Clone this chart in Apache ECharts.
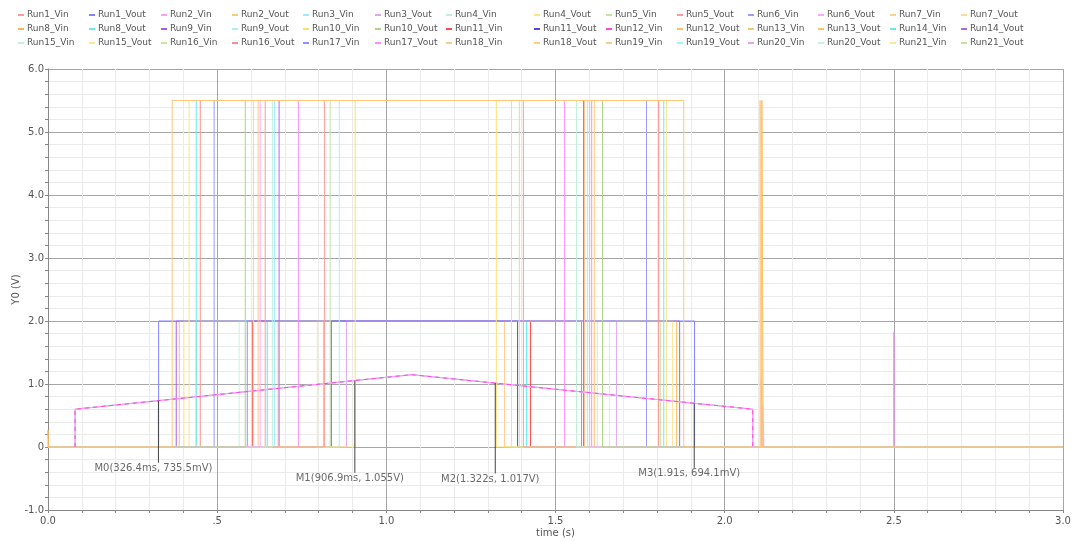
<!DOCTYPE html>
<html>
<head>
<meta charset="utf-8">
<script src="https://cdn.jsdelivr.net/npm/echarts/dist/echarts.min.js"></script>
<style>
  html, body { margin: 0; padding: 0; background: #fff; }
  #chart { width: 1082px; height: 543px; }
</style>
</head>
<body>
<div id="chart"></div>
<script>
// Monte Carlo transient: Vin / Vout of 21 runs
const runCount = 21;
const seriesNames = [];
for (let r = 1; r <= runCount; r++) seriesNames.push('Run' + r + '_Vin', 'Run' + r + '_Vout');

// legend order colours (Run1_Vin, Run1_Vout, Run2_Vin, ...)
const seriesColors = [
  '#ff9a9a', '#8282ff', '#ff9cff', '#ffc77a', '#9cecff', '#dfa6f7', '#bff0dc',
  '#ffe38c', '#c4e69a', '#ff9a9a', '#9a9aff', '#ffa6ff', '#ffd08c', '#ffd89a',
  '#ffb455', '#5eeeee', '#a95bee', '#b0f0dc', '#ffe066', '#acd686', '#ff4848',
  '#4a4aee', '#ff48dd', '#ffc165', '#ffc165', '#ffc165', '#5eeeee', '#b066ee',
  '#c2f2e2', '#ffe59a', '#c6e6a0', '#ff8c8c', '#9090ff', '#ff8cff', '#ffcc88',
  '#ffcc88', '#ffcc88', '#a6f4f4', '#dfa6f7', '#c4f4e0', '#ffe59a', '#c4e4a0'
];

// x positions of legend columns (text start, px)
const legendColumnX = [29, 100, 172, 243, 314, 386, 457, 545, 617, 688, 759, 829, 901, 972];

// input ramp (identical for every run)
const vinRampT = [0.08, 0.08, 1.075, 2.083, 2.083];
const vinRampV = [0, 0.6, 1.148, 0.6, 0];
const rampRuns = ['Run5_Vin', 'Run15_Vin', 'Run20_Vin', 'Run2_Vin', 'Run12_Vin'];

// [series, rise (s), fall (s), level (V)]
const highPulses = [
  ['Run2_Vout', 0.367, 1.879, 5.5],
  ['Run4_Vout', 0.417, 1.828, 5.5],
  ['Run8_Vout', 0.438, 1.820, 5.5],
  ['Run16_Vout', 0.450, 1.805, 5.5],
  ['Run6_Vin', 0.491, 1.769, 5.5],
  ['Run10_Vout', 0.583, 1.639, 5.5],
  ['Run7_Vin', 0.607, 1.615, 5.5],
  ['Run18_Vin', 0.621, 1.586, 5.5],
  ['Run6_Vout', 0.627, 1.601, 5.5],
  ['Run1_Vin', 0.642, 1.607, 5.5],
  ['Run4_Vin', 0.663, 1.562, 5.5],
  ['Run3_Vin', 0.669, 1.595, 5.5],
  ['Run14_Vout', 0.683, 1.583, 5.5],
  ['Run17_Vout', 0.740, 1.527, 5.5],
  ['Run5_Vout', 0.817, 1.405, 5.5],
  ['Run16_Vin', 0.834, 1.393, 5.5],
  ['Run19_Vout', 0.861, 1.370, 5.5],
  ['Run10_Vin', 0.908, 1.325, 5.5]
];
const lowPulses = [
  ['Run1_Vout', 0.327, 1.911, 2.0],
  ['Run9_Vin', 0.379, 1.867, 2.0],
  ['Run12_Vout', 0.388, 1.858, 2.0],
  ['Run15_Vout', 0.402, 1.846, 2.0],
  ['Run21_Vout', 0.438, 1.811, 2.0],
  ['Run20_Vout', 0.565, 1.660, 2.0],
  ['Run17_Vin', 0.589, 1.577, 2.0],
  ['Run11_Vin', 0.604, 1.426, 2.0],
  ['Run14_Vin', 0.648, 1.414, 2.0],
  ['Run19_Vin', 0.680, 1.349, 2.0],
  ['Run21_Vin', 0.796, 1.624, 2.0],
  ['Run13_Vout', 0.814, 1.615, 2.0],
  ['Run11_Vout', 0.837, 1.388, 2.0],
  ['Run3_Vout', 0.882, 1.680, 2.0]
];
const spikePulses = [
  ['Run8_Vin', 0.0, 0.002, 0.27],
  ['Run7_Vout', 2.104, 2.108, 5.5],
  ['Run18_Vout', 2.107, 2.111, 5.5],
  ['Run13_Vin', 2.110, 2.114, 5.5],
  ['Run11_Vin', 2.108, 2.110, 1.07],
  ['Run6_Vout', 2.112, 2.116, 0.68],
  ['Run17_Vout', 2.5, 2.5, 1.82]
];

// cursor markers
const markerT = [0.3264, 0.9069, 1.322, 1.91];
const markerV = [0.7355, 1.055, 1.017, 0.6941];
const markerLabelV = [-0.25, -0.41, -0.42, -0.33];
const markerText = ['M0(326.4ms, 735.5mV)', 'M1(906.9ms, 1.055V)', 'M2(1.322s, 1.017V)', 'M3(1.91s, 694.1mV)'];

// bottom -> top
const drawOrder = [
  'Run9_Vin', 'Run12_Vout', 'Run15_Vout', 'Run21_Vout', 'Run20_Vout', 'Run17_Vin', 'Run11_Vin',
  'Run14_Vin', 'Run19_Vin', 'Run21_Vin', 'Run13_Vout', 'Run11_Vout', 'Run3_Vout',
  'Run1_Vout',
  'Run4_Vout', 'Run8_Vout', 'Run16_Vout', 'Run6_Vin', 'Run7_Vin', 'Run18_Vin', 'Run1_Vin', 'Run3_Vin',
  'Run14_Vout', 'Run17_Vout', 'Run16_Vin', 'Run19_Vout', 'Run10_Vin', 'Run5_Vout', 'Run4_Vin',
  'Run6_Vout', 'Run10_Vout',
  'Run9_Vout', 'Run7_Vout', 'Run18_Vout', 'Run13_Vin', 'Run8_Vin',
  'Run2_Vout',
  'Run5_Vin', 'Run15_Vin', 'Run20_Vin', 'Run2_Vin', 'Run12_Vin'
];

const font = 'DejaVu Sans';
const tEnd = 3;

const mainRuns = new Set([...highPulses, ...lowPulses].map(p => p[0]));
const allPulses = [...highPulses, ...lowPulses, ...spikePulses];

function waveData(name) {
  if (rampRuns.includes(name)) return vinRampT.map((t, i) => [t, vinRampV[i]]);
  const list = allPulses.filter(p => p[0] === name).sort((a, b) => a[1] - b[1]);
  const pts = [];
  if (mainRuns.has(name)) pts.push([0, 0]);
  list.forEach(p => {
    pts.push([p[1], 0], [p[1], p[3]], [p[2], p[3]], [p[2], 0]);
  });
  if (mainRuns.has(name)) pts.push([tEnd, 0]);
  return pts;
}

const series = drawOrder.map(name => {
  const color = seriesColors[seriesNames.indexOf(name)];
  return {
    name: name,
    type: 'line',
    data: waveData(name),
    showSymbol: false,
    symbol: 'none',
    silent: true,
    color: color,
    itemStyle: { color: color },
    lineStyle: {
      color: color,
      width: 1,
      type: name === 'Run12_Vin' ? [4, 4] : 'solid'
    }
  };
});

markerT.forEach((t, i) => {
  series.push({
    type: 'line',
    z: 5,
    data: [[t, markerV[i]], [t, markerLabelV[i]]],
    showSymbol: false,
    symbol: 'none',
    silent: true,
    lineStyle: { color: '#444', width: 1 }
  });
});
series.push({
  type: 'scatter',
  z: 5,
  data: markerT.map((t, i) => [t, markerLabelV[i]]),
  symbolSize: 0,
  silent: true,
  label: {
    show: true,
    position: 'bottom',
    distance: 1,
    offset: [-5, 0],
    fontFamily: font,
    fontSize: 10,
    color: '#444',
    formatter: p => markerText[p.dataIndex]
  }
});

const legends = legendColumnX.map((x, c) => ({
  orient: 'vertical',
  left: x - 11,
  top: 9,
  padding: 0,
  itemGap: 2,
  itemWidth: 6,
  itemHeight: 2,
  icon: 'rect',
  selectedMode: false,
  data: [0, 1, 2].map(r => seriesNames[r * 14 + c]),
  textStyle: { fontFamily: font, fontSize: 9, color: '#555', lineHeight: 12, padding: [0, 0, 0, -2] }
}));

const chart = echarts.init(document.getElementById('chart'));
chart.setOption({
  animation: false,
  backgroundColor: '#fff',
  legend: legends,
  grid: { left: 48, right: 19, top: 69, bottom: 33, containLabel: false, outerBoundsMode: 'none' },
  xAxis: {
    type: 'value',
    min: 0,
    max: 3,
    interval: 0.5,
    name: 'time (s)',
    nameLocation: 'middle',
    nameGap: 18,
    nameMoveOverlap: false,
    nameTextStyle: { fontFamily: font, fontSize: 10, color: '#555' },
    axisLine: { show: true, onZero: false, lineStyle: { color: '#888' } },
    axisTick: { show: true, length: 3, lineStyle: { color: '#888' } },
    minorTick: { show: true, splitNumber: 5, length: 3, lineStyle: { color: '#888' } },
    axisLabel: {
      fontFamily: font, fontSize: 10, color: '#555', margin: 6,
      formatter: v => (v === 0.5 ? '.5' : v.toFixed(1))
    },
    splitLine: { show: true, lineStyle: { color: '#a6a6a6' } },
    minorSplitLine: { show: true, lineStyle: { color: '#ebebeb' } }
  },
  yAxis: {
    type: 'value',
    min: -1,
    max: 6,
    interval: 1,
    name: 'Y0 (V)',
    nameLocation: 'middle',
    nameGap: 27,
    nameMoveOverlap: false,
    nameTextStyle: { fontFamily: font, fontSize: 10, color: '#555' },
    axisLine: { show: true, onZero: false, lineStyle: { color: '#888' } },
    axisTick: { show: true, length: 3, lineStyle: { color: '#888' } },
    minorTick: { show: true, splitNumber: 5, length: 3, lineStyle: { color: '#888' } },
    axisLabel: {
      fontFamily: font, fontSize: 10, color: '#555', margin: 4,
      formatter: v => (v === 0 ? '0' : v.toFixed(1))
    },
    splitLine: { show: true, lineStyle: { color: '#a6a6a6' } },
    minorSplitLine: { show: true, lineStyle: { color: '#ebebeb' } }
  },
  series: series
});
</script>
</body>
</html>
